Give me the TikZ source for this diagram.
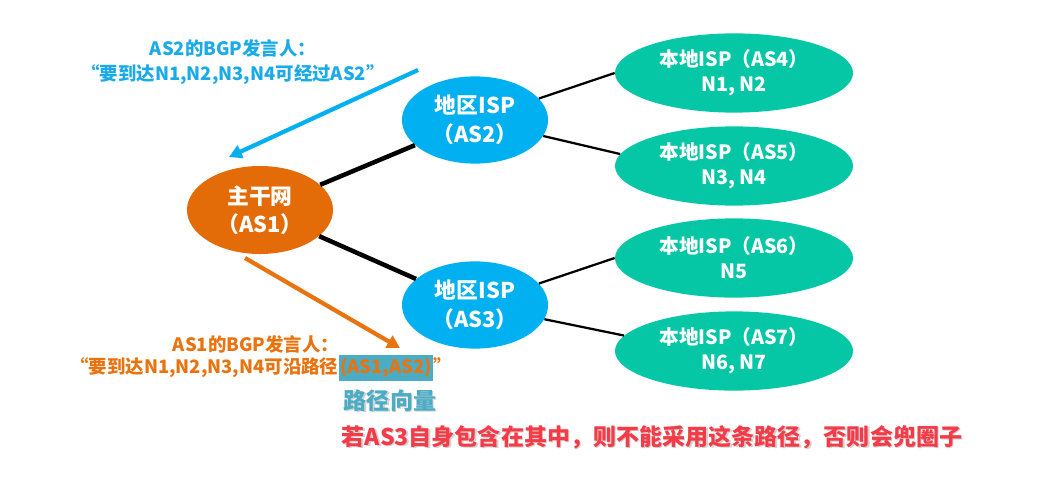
\documentclass[tikz,border=0pt]{standalone}
\usepackage{fontspec}
\setmainfont{Noto Sans CJK SC}
\usetikzlibrary{shapes.geometric,arrows.meta}
\definecolor{backbone}{HTML}{E36C09}
\definecolor{regional}{HTML}{00B0F0}
\definecolor{localisp}{HTML}{05C7A6}
\definecolor{saytwo}{HTML}{1AAAE8}
\definecolor{sayone}{HTML}{E8730F}
\definecolor{pathvec}{HTML}{4BACC6}
\definecolor{warn}{HTML}{F53B47}
\tikzset{
  asnode/.style={ellipse, inner sep=0pt, text=white, align=center},
  core/.style={asnode, fill=backbone, minimum width=3.65cm, minimum height=2.2cm, font=\bfseries\fontsize{15.5}{20}\selectfont},
  region/.style={asnode, fill=regional, minimum width=3.65cm, minimum height=2.18cm, font=\bfseries\fontsize{15.5}{21}\selectfont},
  stub/.style={asnode, fill=localisp, minimum width=5.95cm, minimum height=1.98cm, font=\bfseries\fontsize{14}{17.8}\selectfont},
  trunk/.style={line width=3.2pt, draw=black},
  branch/.style={line width=1.6pt, draw=black},
  announce/.style={line width=3pt, -{Triangle[length=0.32cm,width=0.34cm]}},
  saying/.style={font=\bfseries\fontsize{13.1}{17.8}\selectfont, align=center, inner sep=0pt},
  hlbox/.style={saying, fill=pathvec, text=sayone, inner xsep=1pt, minimum height=0.67cm},
  remark/.style={font=\bfseries\fontsize{16.4}{20}\selectfont, inner sep=0pt},
}

\begin{document}
\begin{tikzpicture}[x=0.025cm,y=-0.025cm]
\useasboundingbox (0,0) rectangle (1049,485);
% autonomous systems
\node[core] (as1) at (260,210) {主干网\\（AS1）};
\node[region] (as2) at (475,120) {地区ISP\\（AS2）};
\node[region] (as3) at (475,305) {地区ISP\\（AS3）};
\node[stub] (as4) at (734,73) {本地ISP（AS4）\\N1, N2};
\node[stub] (as5) at (734,166) {本地ISP（AS5）\\N3, N4};
\node[stub] (as6) at (734,258) {本地ISP（AS6）\\N5};
\node[stub] (as7) at (734,351) {本地ISP（AS7）\\N6, N7};
% links
\draw[trunk] (as1) -- (as2);
\draw[trunk] (as1) -- (as3);
\draw[branch] (as2) -- (as4.west);
\draw[branch] (as2) -- (as5.174);
\draw[branch] (as3) -- (as6.west);
\draw[branch] (as3) -- (as7.172);
% announcements
\coordinate (from2) at (418,70);
\coordinate (to1) at (229,157);
\coordinate (from1) at (245,258);
\coordinate (to3) at (400,348);
\draw[announce, draw=regional] (from2) -- (to1);
\draw[announce, draw=sayone] (from1) -- (to3);
\node[saying, text=saytwo] (say2) at (233,62) {AS2的BGP发言人：\\“要到达N1,N2,N3,N4可经过AS2”};
\node[saying, text=sayone] (say1a) at (256,344) {AS1的BGP发言人：};
\node[hlbox] (vec) at (386,368) {(AS1,AS2)};
\node[saying, text=sayone, anchor=base east] (say1b) at (vec.base west) {“要到达N1,N2,N3,N4可沿路径};
\node[saying, text=sayone, anchor=base west] (say1c) at (vec.base east) {”};
% notes
\node[remark, text=black!18] (tagshade) at (391.5,402) {路径向量};
\node[remark, text=pathvec] (tag) at (390,400.5) {路径向量};
\node[remark, text=black!18] (warnshade) at (653.5,438.5) {若AS3自身包含在其中，则不能采用这条路径，否则会兜圈子};
\node[remark, text=warn] (warning) at (652,437) {若AS3自身包含在其中，则不能采用这条路径，否则会兜圈子};
\end{tikzpicture}
\end{document}
